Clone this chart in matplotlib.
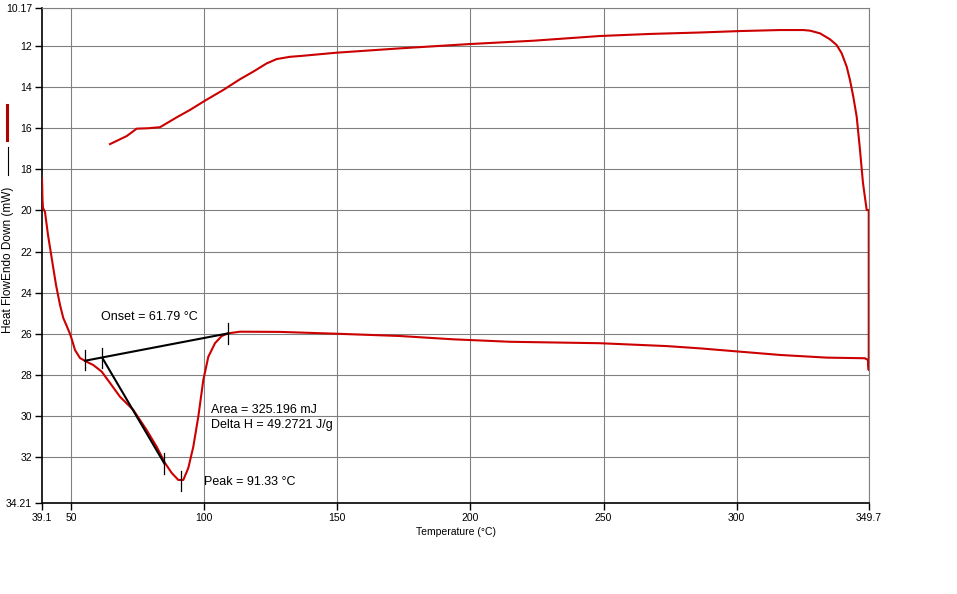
import matplotlib.pyplot as plt
from matplotlib.lines import Line2D

plt.rcParams['font.family'] = ['Liberation Sans', 'DejaVu Sans']

# Trace DSC: chauffe (bas) puis retour (haut)
heat_T = [39.1, 39.29, 39.48, 40.23, 41.35, 42.86, 44.36, 45.86, 47.1, 48.38, 49.62, 50.37,
          51.49, 53.37, 55.25, 58.37, 61.52, 64.64, 68.39, 73.39, 78.42, 82.18, 85.3, 87.81,
          90.29, 92.17, 94.05, 95.92, 97.8, 99.68, 101.56, 104.07, 106.59, 109.07, 113.46,
          128.49, 152.15, 173.56, 193.46, 214.86, 248.66, 273.83, 286.22, 301.24, 316.27,
          333.92, 348.19, 349.32, 349.6, 349.6]
heat_mW = [18.43, 19.49, 19.88, 20.08, 21.19, 22.41, 23.62, 24.59, 25.23, 25.61, 26.0, 26.29,
           26.78, 27.17, 27.31, 27.51, 27.83, 28.38, 29.05, 29.69, 30.67, 31.48, 32.27, 32.75,
           33.09, 33.09, 32.51, 31.48, 30.02, 28.24, 27.11, 26.45, 26.1, 25.97, 25.89,
           25.9, 26.0, 26.1, 26.26, 26.38, 26.45, 26.59, 26.7, 26.86, 27.02,
           27.15, 27.18, 27.27, 27.75, 19.98]

cool_T = [348.83, 347.44, 346.32, 345.08, 343.8, 342.56, 341.32, 339.44, 337.56, 335.05,
          331.29, 327.54, 325.02, 316.27, 301.24, 286.22, 267.44, 248.66, 223.5, 199.84,
          173.56, 149.78, 136.2, 132.24, 127.25, 123.49, 118.46, 113.46, 107.19, 100.32,
          94.69, 89.69, 83.42, 79.02, 74.67, 70.91, 64.64]
cool_mW = [19.98, 18.67, 17.07, 15.45, 14.48, 13.67, 13.02, 12.37, 11.97, 11.69,
           11.4, 11.27, 11.24, 11.24, 11.29, 11.36, 11.43, 11.53, 11.76, 11.92,
           12.13, 12.34, 12.5, 12.54, 12.65, 12.86, 13.26, 13.63, 14.15, 14.67,
           15.12, 15.48, 15.96, 16.01, 16.03, 16.39, 16.78]

# Analyse du pic
baseline_T = [55.3, 109.1]
baseline_mW = [27.3, 25.97]
tangent_T = [61.79, 85.0]
tangent_mW = [27.17, 32.28]
tick_T = [55.3, 61.79, 85.0, 109.1, 91.33]
tick_mW = [27.27, 27.17, 32.3, 25.97, 33.14]

x_ticks = [39.1, 50, 100, 150, 200, 250, 300, 349.7]
x_labels = ['39.1', '50', '100', '150', '200', '250', '300', '349.7']
y_ticks = [10.17, 12, 14, 16, 18, 20, 22, 24, 26, 28, 30, 32, 34.21]
y_labels = ['10.17', '12', '14', '16', '18', '20', '22', '24', '26', '28', '30', '32', '34.21']

red = '#cc0000'

fig = plt.figure(figsize=(9.57, 5.94), dpi=100)
ax = fig.add_axes([42 / 957, 1 - 503 / 594, 827 / 957, 495 / 594])

# Grille grise
for xv in x_ticks[1:]:
    ax.axvline(xv, color='#808080', lw=0.8, zorder=0)
for yv in y_ticks[:-1]:
    ax.axhline(yv, color='#808080', lw=0.8, zorder=0)

ax.plot(heat_T + cool_T, heat_mW + cool_mW, color=red, lw=1.5, zorder=3)

ax.plot(baseline_T, baseline_mW, color='black', lw=1.5, zorder=4)
ax.plot(tangent_T, tangent_mW, color='black', lw=1.5, zorder=4)
for t, m in zip(tick_T, tick_mW):
    ax.plot([t, t], [m - 0.5, m + 0.5], color='black', lw=0.9, zorder=5)

ax.text(61.3, 25.2, 'Onset = 61.79 °C', fontsize=9, va='center', ha='left')
ax.text(102.5, 29.7, 'Area = 325.196 mJ', fontsize=9, va='center', ha='left')
ax.text(102.5, 30.42, 'Delta H = 49.2721 J/g', fontsize=9, va='center', ha='left')
ax.text(99.9, 33.2, 'Peak = 91.33 °C', fontsize=9, va='center', ha='left')

ax.set_xlim(39.1, 349.7)
ax.set_ylim(34.21, 10.17)
ax.set_xticks(x_ticks)
ax.set_xticklabels(x_labels)
ax.set_yticks(y_ticks)
ax.set_yticklabels(y_labels)
ax.tick_params(direction='out', length=5, width=1, labelsize=7.5, pad=2, colors='black')

ax.spines['top'].set_color('#808080')
ax.spines['right'].set_color('#808080')
ax.spines['top'].set_linewidth(0.8)
ax.spines['right'].set_linewidth(0.8)
ax.spines['left'].set_linewidth(1.2)
ax.spines['bottom'].set_linewidth(1.2)

ax.set_xlabel('Temperature (°C)', fontsize=7.5, labelpad=3)

# Légende verticale à gauche
fig.text(8 / 957, 1 - 333 / 594, 'Heat FlowEndo Down (mW)', rotation=90,
         fontsize=8.5, ha='center', va='bottom')
fig.add_artist(Line2D([8 / 957, 8 / 957], [1 - 175 / 594, 1 - 147 / 594], color='black', lw=0.8))
fig.add_artist(Line2D([7.5 / 957, 7.5 / 957], [1 - 140 / 594, 1 - 105 / 594], color='#b00000', lw=2.2))

fig.savefig('out.png', dpi=100, facecolor='white')
